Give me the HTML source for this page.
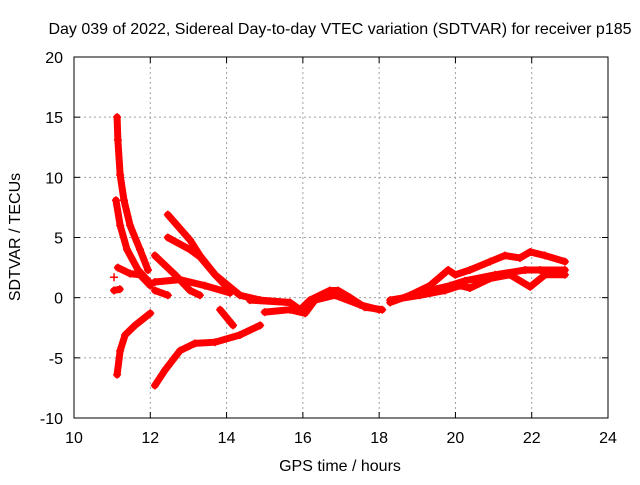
<!DOCTYPE html>
<html><head><meta charset="utf-8"><style>
body{margin:0;background:#fff;}
svg text{font-family:"Liberation Sans",sans-serif;font-size:16px;fill:#000;}
</style></head><body>
<svg id="chart" width="640" height="480" xmlns="http://www.w3.org/2000/svg">
<text x="340" y="34" text-anchor="middle">Day 039 of 2022, Sidereal Day-to-day VTEC variation (SDTVAR) for receiver p185</text>
<g id="grid"></g>
<g id="axes"></g>
<g id="series"></g>
<text x="340" y="471" text-anchor="middle">GPS time / hours</text>
<text transform="translate(20,237) rotate(-90)" text-anchor="middle">SDTVAR / TECUs</text>
</svg>
<script>
const xTicks=[10,12,14,16,18,20,22,24];
const yTicks=[-10,-5,0,5,10,15,20];
const trackA=[[11.13,15.0],[11.15,13.1],[11.21,10.2],[11.31,8.1],[11.47,6.0],[11.73,4.0],[11.94,2.3]];
const trackB=[[11.1,8.1],[11.21,6.0],[11.39,4.0],[11.68,2.3],[12.0,1.2]];
const trackC=[[11.15,2.5],[11.47,2.0],[11.73,1.9],[12.0,1.0]];
const trackS1=[[11.05,1.7]];
const trackS2=[[11.05,0.6],[11.2,0.7]];
const trackD=[[11.13,-6.4],[11.21,-4.4],[11.34,-3.1],[11.6,-2.3],[12.0,-1.3]];
const trackE=[[12.12,-7.3],[12.39,-6.0],[12.78,-4.4],[13.17,-3.8],[13.7,-3.7],[14.35,-3.1],[14.88,-2.3]];
const trackF=[[12.46,6.9],[13.04,4.8],[13.3,3.5],[13.7,1.9],[14.35,0.2],[14.88,-0.2],[15.66,-0.4]];
const trackG=[[12.46,5.0],[13.04,4.0],[13.3,3.4],[13.7,1.9],[14.09,0.6]];
const trackH=[[12.12,3.5],[12.65,1.9],[13.04,0.6],[13.3,0.2]];
const trackI=[[12.12,1.3],[12.78,1.5],[13.43,1.0],[14.09,0.4]];
const trackJ=[[12.12,0.6],[12.46,0.2]];
const trackK=[[13.83,-1.0],[14.17,-2.3]];
const trackM1=[[14.61,-0.2],[15.66,-0.4],[15.93,-1.0],[16.19,-0.2],[16.71,0.6],[16.92,0.6],[17.24,0.0],[17.63,-0.8],[18.08,-1.0]];
const trackM2=[[15.0,-1.2],[15.66,-1.0],[16.06,-1.3],[16.32,-0.2],[16.84,0.2],[17.5,-0.6],[18.0,-1.0]];
const trackR1=[[18.29,-0.4],[18.81,0.2],[19.33,1.0],[19.81,2.3],[20.0,1.9],[20.38,2.3],[20.91,3.0],[21.3,3.5],[21.69,3.3],[21.96,3.8],[22.35,3.5],[22.87,3.0]];
const trackR2=[[18.29,-0.2],[19.07,0.2],[19.73,0.6],[20.12,1.0],[20.38,0.8],[20.91,1.6],[21.43,1.9],[21.96,0.9],[22.35,1.9],[22.87,1.9]];
const trackR3=[[19.33,0.6],[19.86,1.0],[20.25,1.4],[21.04,1.9],[21.83,2.3],[22.22,2.3],[22.87,2.3]];
const tracks=[trackA,trackB,trackC,trackS1,trackS2,trackD,trackE,trackF,trackG,trackH,trackI,trackJ,trackK,trackM1,trackM2,trackR1,trackR2,trackR3];

const L=74,R=608,T=57,B=418;
const sx=v=>L+(v-10)/14*(R-L);
const sy=v=>B-(v+10)/30*(B-T);
const NS="http://www.w3.org/2000/svg";
function mk(tag,attrs,parent){const e=document.createElementNS(NS,tag);for(const k in attrs)e.setAttribute(k,attrs[k]);parent.appendChild(e);return e;}
const grid=document.getElementById('grid'),axes=document.getElementById('axes'),ser=document.getElementById('series');
xTicks.forEach(t=>{
  const x=sx(t);
  if(t>10&&t<24){const g=mk('line',{x1:x,x2:x,y1:T,y2:B,stroke:'#a0a0a0','stroke-dasharray':'2,3'},grid);
  
  }
  const tk=mk('text',{x:x,y:B+25,'text-anchor':'middle'},axes);tk.textContent=t;
  
  
  mk('line',{x1:x,x2:x,y1:B,y2:B-6,stroke:'#000'},axes);
  mk('line',{x1:x,x2:x,y1:T,y2:T+6,stroke:'#000'},axes);
});
yTicks.forEach(t=>{
  const y=sy(t);
  if(t>-10&&t<20){const g=mk('line',{x1:L,x2:R,y1:y,y2:y,stroke:'#a0a0a0','stroke-dasharray':'2,3'},grid);
  
  }
  const tk=mk('text',{x:L-11,y:y+6,'text-anchor':'end'},axes);tk.textContent=t;
  
  
  mk('line',{x1:L,x2:L+6,y1:y,y2:y,stroke:'#000'},axes);
  mk('line',{x1:R,x2:R-6,y1:y,y2:y,stroke:'#000'},axes);
});
const fr=mk('rect',{x:L,y:T,width:R-L,height:B-T,fill:'none',stroke:'#000'},axes);


tracks.forEach(tr=>{
  if(tr.length>1){
    const pl=mk('polyline',{points:tr.map(p=>sx(p[0])+','+sy(p[1])).join(' '),fill:'none',stroke:'#ff0000','stroke-width':7,'stroke-linejoin':'round','stroke-linecap':'round'},ser);
    
    
  }
  tr.forEach(p=>{
    const x=sx(p[0]),y=sy(p[1]);
    const m=mk('path',{d:`M${x-4},${y}H${x+4}M${x},${y-4}V${y+4}`,stroke:'#ff0000','stroke-width':1.5},ser);
    
    
  });
});
</script>
</body></html>
